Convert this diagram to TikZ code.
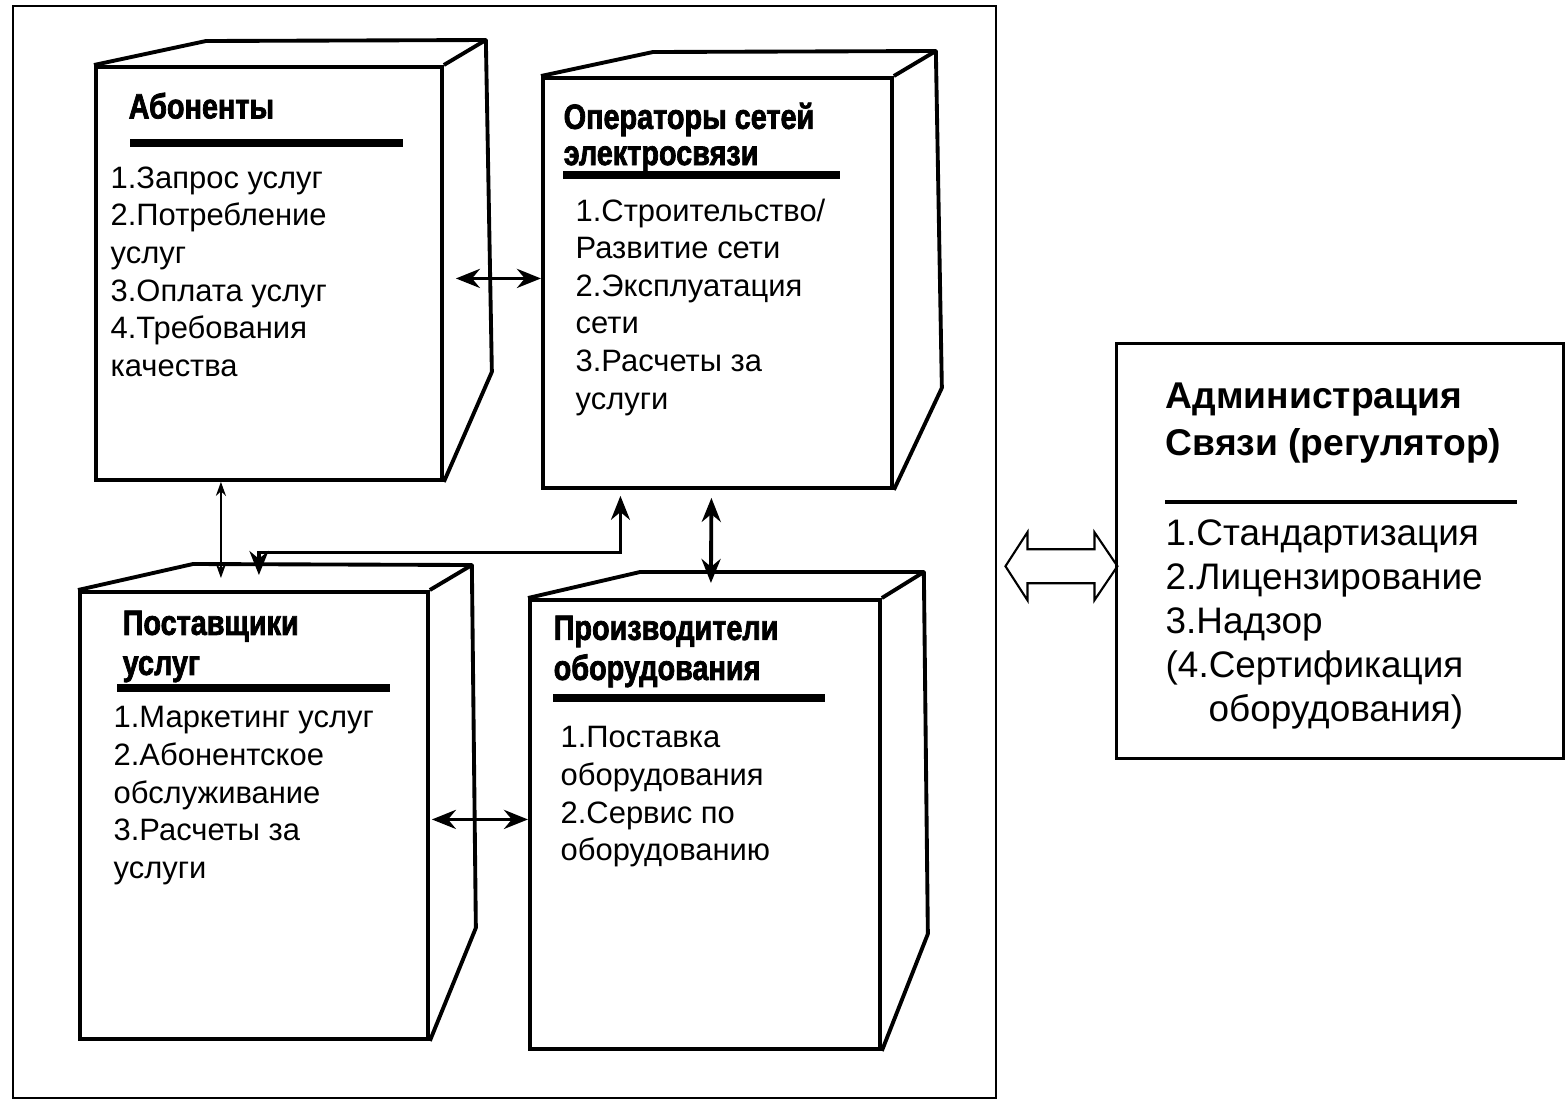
\documentclass[tikz,border=0pt]{standalone}
\usepackage{fontspec}
\setmainfont{Liberation Sans}
\newfontfamily\headfont[FakeStretch=0.82,BoldFeatures={FakeBold=2}]{Liberation Sans}
\usetikzlibrary{arrows.meta,calc,positioning}

\tikzset{
  face/.style={draw, line width=1.1pt, inner sep=0pt, anchor=north west},
  edge/.style={line width=1.1pt, line join=round},
  heading/.style={anchor=north west, inner sep=0pt, align=left,
    font=\headfont\bfseries\fontsize{10}{11.4}\selectfont},
  items/.style={anchor=north west, inner sep=0pt, align=left,
    font=\fontsize{8.8}{10.7}\selectfont},
  bar/.style={line width=2pt},
  link/.style={line width=1.1pt,
    {Stealth[length=2.4mm,width=1.9mm]}-{Stealth[length=2.4mm,width=1.9mm]}},
  thinlink/.style={line width=0.6pt,
    {Stealth[length=1.4mm,width=1mm]}-{Stealth[length=1.4mm,width=1mm]}}
}

\begin{document}
\begin{tikzpicture}[x=0.1mm, y=-0.1mm]
    \useasboundingbox (0,0) rectangle (1568,1104);

    % Outer frame
    \node[face, line width=0.7pt, minimum width=98.3mm, minimum height=109.2mm] (frame) at (12,5) {};

    % Subscribers
    \node[face, minimum width=34.6mm, minimum height=41.3mm] (ab) at (94,65) {};
    \draw[edge] (ab.north west) -- ++(112,-24) -- ($(ab.north east)+(42,-25)$) -- (ab.north east);
    \draw[edge] ($(ab.north east)+(42,-25)$) -- ($(ab.south east)+(48,-110)$) -- (ab.south east);
    \node[heading] (abT) at (128,92) {Абоненты};
    \draw[bar] (130,143) -- (403,143);
    \node[items] (abL) at (110,166) {1.Запрос услуг\\2.Потребление\\услуг\\3.Оплата услуг\\4.Требования\\качества};

    % Network operators
    \node[face, minimum width=34.9mm, minimum height=41.0mm] (op) at (541,76) {};
    \draw[edge] (op.north west) -- ++(112,-24) -- ($(op.north east)+(42,-25)$) -- (op.north east);
    \draw[edge] ($(op.north east)+(42,-25)$) -- ($(op.south east)+(48,-102)$) -- (op.south east);
    \node[heading, font=\headfont\bfseries\fontsize{10}{10.3}\selectfont] (opT) at (563,102) {Операторы сетей\\электросвязи};
    \draw[bar] (563,175) -- (840,175);
    \node[items] (opL) at (575,198) {1.Строительство/\\Развитие сети\\2.Эксплуатация\\сети\\3.Расчеты за\\услуги};

    % Service providers
    \node[face, minimum width=34.8mm, minimum height=44.7mm] (pr) at (78,590) {};
    \draw[edge] (pr.north west) -- ++(115,-26) -- ($(pr.north east)+(42,-25)$) -- (pr.north east);
    \draw[edge] ($(pr.north east)+(42,-25)$) -- ($(pr.south east)+(46,-113)$) -- (pr.south east);
    \node[heading] (prT) at (122,610) {Поставщики\\услуг};
    \draw[bar] (117,688) -- (390,688);
    \node[items] (prL) at (113,706) {1.Маркетинг услуг\\2.Абонентское\\обслуживание\\3.Расчеты за\\услуги};

    % Equipment manufacturers
    \node[face, minimum width=35.0mm, minimum height=44.9mm] (mf) at (528,598) {};
    \draw[edge] (mf.north west) -- ++(112,-26) -- ($(mf.north east)+(42,-26)$) -- (mf.north east);
    \draw[edge] ($(mf.north east)+(42,-26)$) -- ($(mf.south east)+(46,-117)$) -- (mf.south east);
    \node[heading] (mfT) at (553,615) {Производители\\оборудования};
    \draw[bar] (553,698) -- (825,698);
    \node[items] (mfL) at (560,726) {1.Поставка\\оборудования\\2.Сервис по\\оборудованию};

    % Links between participants
    \draw[link] ([shift={(12,5)}]ab.east) coordinate (h1) -- (h1 -| op.west);
    \draw[link] ([shift={(2,4)}]pr.east) coordinate (h2) -- (h2 -| mf.west);
    \draw[thinlink] ([shift={(-48,0)}]ab.south) -- ([shift={(-33,-12)}]pr.north);
    \draw[link, line width=0.9pt] ([shift={(-97,6)}]op.south) -- ++(0,57) -| ([shift={(5,-15)}]pr.north);
    \draw[link] ([shift={(-6,8)}]op.south) -- ([shift={(6,-15)}]mf.north);

    % Regulator
    \node[face, line width=0.8pt, minimum width=44.7mm, minimum height=41.5mm] (adm) at (1115,342) {};
    \node[anchor=north west, inner sep=0pt, align=left, font=\bfseries\fontsize{10.6}{13.4}\selectfont] (admT) at (1165,382) {Администрация\\Связи (регулятор)};
    \draw[line width=0.9pt] (1165,502) -- (1517,502);
    \node[anchor=north west, inner sep=0pt, align=left, font=\fontsize{10.5}{12.5}\selectfont] (admL) at (1165,519) {1.Стандартизация\\2.Лицензирование\\3.Надзор\\(4.Сертификация\\\hspace*{4.3mm}оборудования)};

    % Hollow double arrow
    \draw[line width=0.6pt, line join=miter] ([shift={(8,14)}]frame.east) coordinate (ha)
      -- ++(22,-34) -- ++(0,17) -- ++(67,0) -- ++(0,-17) -- ++(23,34)
      -- ++(-23,34) -- ++(0,-17) -- ++(-67,0) -- ++(0,17) -- cycle;
\end{tikzpicture}
\end{document}
